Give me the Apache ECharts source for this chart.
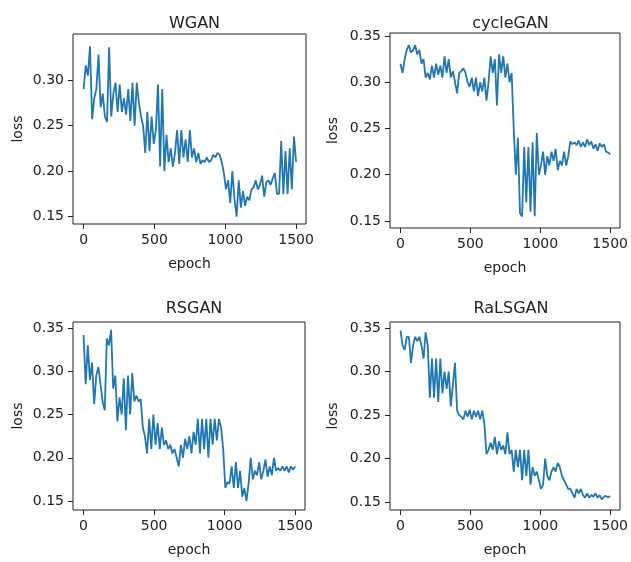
<!DOCTYPE html>
<html>
<head>
<meta charset="utf-8">
<script src="https://cdn.jsdelivr.net/npm/echarts@6/dist/echarts.min.js"></script>
<style>
  html, body { margin: 0; padding: 0; background: #fff; }
  #chart { width: 631px; height: 562px; }
</style>
</head>
<body>
<div id="chart"></div>
<script>
// loss recorded every 15 epochs, 0..1500
var step = 15;
var titles = ['WGAN', 'cycleGAN', 'RSGAN', 'RaLSGAN'];
var xTicks = [0, 500, 1000, 1500];
var yTicksTop = [0.15, 0.20, 0.25, 0.30];
var yTicks = [0.15, 0.20, 0.25, 0.30, 0.35];

var wgan = [
  0.290, 0.316, 0.305, 0.337, 0.257, 0.280, 0.290, 0.328, 0.270, 0.285,
  0.260, 0.254, 0.336, 0.260, 0.285, 0.297, 0.265, 0.295, 0.265, 0.280,
  0.262, 0.290, 0.255, 0.297, 0.250, 0.297, 0.275, 0.260, 0.250, 0.220,
  0.265, 0.222, 0.260, 0.230, 0.245, 0.295, 0.205, 0.290, 0.200, 0.240,
  0.210, 0.225, 0.205, 0.220, 0.245, 0.208, 0.245, 0.215, 0.235, 0.210,
  0.245, 0.215, 0.225, 0.210, 0.220, 0.208, 0.212, 0.210, 0.215, 0.210,
  0.212, 0.218, 0.215, 0.220, 0.218, 0.210, 0.198, 0.180, 0.190, 0.165,
  0.200, 0.170, 0.150, 0.190, 0.160, 0.178, 0.162, 0.172, 0.168, 0.180,
  0.182, 0.190, 0.180, 0.185, 0.195, 0.172, 0.188, 0.190, 0.185, 0.192,
  0.198, 0.175, 0.175, 0.233, 0.175, 0.222, 0.175, 0.225, 0.180, 0.238,
  0.210
];
var cyclegan = [
  0.320, 0.310, 0.325, 0.335, 0.340, 0.332, 0.335, 0.340, 0.330, 0.335,
  0.320, 0.325, 0.305, 0.310, 0.303, 0.318, 0.305, 0.320, 0.308, 0.318,
  0.305, 0.328, 0.310, 0.325, 0.305, 0.312, 0.300, 0.288, 0.310, 0.312,
  0.315, 0.310, 0.300, 0.295, 0.305, 0.290, 0.305, 0.285, 0.300, 0.290,
  0.305, 0.280, 0.300, 0.328, 0.310, 0.325, 0.275, 0.330, 0.310, 0.328,
  0.305, 0.320, 0.300, 0.310, 0.250, 0.200, 0.240, 0.158, 0.155, 0.230,
  0.170, 0.230, 0.160, 0.235, 0.155, 0.245, 0.200, 0.210, 0.225, 0.200,
  0.220, 0.210, 0.225, 0.215, 0.228, 0.205, 0.215, 0.210, 0.225, 0.210,
  0.220, 0.236, 0.233, 0.235, 0.232, 0.237, 0.230, 0.235, 0.230, 0.238,
  0.232, 0.236, 0.228, 0.233, 0.226, 0.234, 0.230, 0.233, 0.225, 0.224,
  0.222
];
var rsgan = [
  0.342, 0.285, 0.330, 0.290, 0.310, 0.262, 0.295, 0.305, 0.285, 0.265,
  0.255, 0.338, 0.330, 0.348, 0.280, 0.295, 0.242, 0.270, 0.250, 0.292,
  0.232, 0.295, 0.250, 0.298, 0.265, 0.272, 0.265, 0.268, 0.235, 0.225,
  0.205, 0.245, 0.210, 0.250, 0.215, 0.240, 0.210, 0.235, 0.215, 0.220,
  0.210, 0.215, 0.205, 0.210, 0.200, 0.190, 0.215, 0.200, 0.222, 0.210,
  0.225, 0.205, 0.230, 0.215, 0.245, 0.205, 0.245, 0.210, 0.245, 0.200,
  0.245, 0.215, 0.245, 0.220, 0.245, 0.235, 0.210, 0.165, 0.172, 0.170,
  0.190, 0.165, 0.195, 0.165, 0.185, 0.155, 0.165, 0.150, 0.170, 0.200,
  0.175, 0.185, 0.180, 0.195, 0.175, 0.185, 0.198, 0.178, 0.190, 0.180,
  0.200, 0.185, 0.188, 0.185, 0.190, 0.185, 0.190, 0.183, 0.190, 0.186,
  0.190
];
var ralsgan = [
  0.347, 0.330, 0.325, 0.340, 0.340, 0.310, 0.330, 0.340, 0.335, 0.340,
  0.330, 0.315, 0.345, 0.330, 0.270, 0.315, 0.270, 0.315, 0.265, 0.315,
  0.275, 0.300, 0.280, 0.300, 0.260, 0.285, 0.310, 0.255, 0.250, 0.248,
  0.245, 0.255, 0.248, 0.256, 0.245, 0.255, 0.248, 0.255, 0.245, 0.255,
  0.240, 0.205, 0.210, 0.218, 0.210, 0.225, 0.205, 0.220, 0.210, 0.215,
  0.205, 0.230, 0.205, 0.210, 0.185, 0.210, 0.190, 0.210, 0.175, 0.210,
  0.180, 0.210, 0.170, 0.190, 0.180, 0.185, 0.175, 0.165, 0.170, 0.200,
  0.180, 0.175, 0.185, 0.190, 0.185, 0.195, 0.190, 0.180, 0.175, 0.170,
  0.165, 0.165, 0.160, 0.155, 0.165, 0.160, 0.165, 0.158, 0.155, 0.160,
  0.155, 0.158, 0.156, 0.160, 0.155, 0.158, 0.153, 0.156, 0.157, 0.155,
  0.157
];

var allSeries = [wgan, cyclegan, rsgan, ralsgan];

// panel boxes (pixels) and y ranges
var boxes = [
  {left: 73, top: 34, width: 233, height: 190, ymin: 0.142, ymax: 0.3505, ticks: yTicksTop, nameGap: 48, titleTop: 11},
  {left: 390, top: 33, width: 231, height: 195, ymin: 0.1424, ymax: 0.3532, ticks: yTicks, nameGap: 50, titleTop: 11},
  {left: 73, top: 322, width: 232, height: 188, ymin: 0.1396, ymax: 0.357, ticks: yTicks, nameGap: 48, titleTop: 296},
  {left: 390, top: 322, width: 232, height: 188, ymin: 0.1408, ymax: 0.357, ticks: yTicks, nameGap: 50, titleTop: 296}
];

var font = 'DejaVu Sans';
var ink = '#222';

function toPairs(vals){
  var out = [];
  for (var i = 0; i < vals.length; i++) {
    out.push([i * step, vals[i]]);
  }
  return out;
}

var grids = [], xAxes = [], yAxes = [], series = [], titleList = [];
for (var k = 0; k < 4; k++) {
  var b = boxes[k];
  grids.push({
    left: b.left, top: b.top, width: b.width, height: b.height,
    show: true, borderColor: ink, borderWidth: 1, backgroundColor: '#fff'
  });
  xAxes.push({
    type: 'value', gridIndex: k, min: -75, max: 1570,
    name: 'epoch', nameLocation: 'middle', nameGap: 33,
    nameTextStyle: {fontFamily: font, fontSize: 14, color: ink},
    axisLine: {show: false, onZero: false},
    splitLine: {show: false},
    axisTick: {show: true, inside: false, length: 5, customValues: xTicks, lineStyle: {color: ink}},
    axisLabel: {
      customValues: xTicks, margin: 9, fontFamily: font, fontSize: 14, color: ink,
      formatter: function(v){ return String(v); }
    }
  });
  yAxes.push({
    type: 'value', gridIndex: k, min: b.ymin, max: b.ymax,
    name: 'loss', nameLocation: 'middle', nameGap: b.nameGap,
    nameTextStyle: {fontFamily: font, fontSize: 14, color: ink},
    axisLine: {show: false, onZero: false},
    splitLine: {show: false},
    axisTick: {show: true, inside: false, length: 5, customValues: b.ticks, lineStyle: {color: ink}},
    axisLabel: {
      customValues: b.ticks, margin: 9, fontFamily: font, fontSize: 14, color: ink,
      formatter: function(v){ return v.toFixed(2); }
    }
  });
  series.push({
    type: 'line', xAxisIndex: k, yAxisIndex: k,
    data: toPairs(allSeries[k]),
    showSymbol: false,
    lineStyle: {color: '#1f77b4', width: 1.8},
    itemStyle: {color: '#1f77b4'}
  });
  titleList.push({
    text: titles[k],
    left: b.left + b.width / 2, top: b.titleTop, textAlign: 'center',
    textStyle: {fontFamily: font, fontSize: 16, fontWeight: 'normal', color: ink}
  });
}

var chart = echarts.init(document.getElementById('chart'));
chart.setOption({
  backgroundColor: '#fff',
  animation: false,
  title: titleList,
  grid: grids,
  xAxis: xAxes,
  yAxis: yAxes,
  series: series
});
</script>
</body>
</html>
